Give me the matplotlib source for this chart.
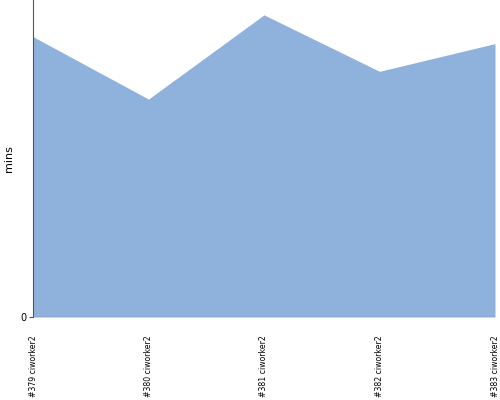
import numpy as np
import matplotlib
matplotlib.use("Agg")
import matplotlib.pyplot as plt

builds = ["#379 ciworker2", "#380 ciworker2", "#381 ciworker2", "#382 ciworker2", "#383 ciworker2"]
mins = [28.3, 22.0, 30.5, 24.8, 27.6]
ymax = 32

fig = plt.figure(figsize=(5, 4), dpi=100)
ax = fig.add_axes([0.066, 0.2075, 0.924, 0.7925])
x = np.arange(len(builds))
ax.fill_between(x, 0, mins, color="#8fb2dc", linewidth=0)
ax.plot(x, [0] * len(x), color="#6f8fb8", linewidth=1)

ax.set_xlim(0, len(builds) - 1)
ax.set_ylim(0, ymax)
ax.set_yticks([0])
ax.set_yticklabels(["0"], fontsize=7)
ax.set_xticks(x)
ax.set_xticklabels(builds, rotation=90, fontsize=5.6,
                   family=["DejaVu Sans Condensed", "DejaVu Sans"])
ax.tick_params(axis="x", length=0, pad=13)
ax.tick_params(axis="y", length=3, width=0.8, color="#555555", pad=2)
ax.set_ylabel("mins", fontsize=8, labelpad=4)

for s in ["top", "right", "bottom"]:
    ax.spines[s].set_visible(False)
ax.spines["left"].set_color("#555555")
ax.spines["left"].set_linewidth(0.8)

fig.savefig("out.png", dpi=100)
